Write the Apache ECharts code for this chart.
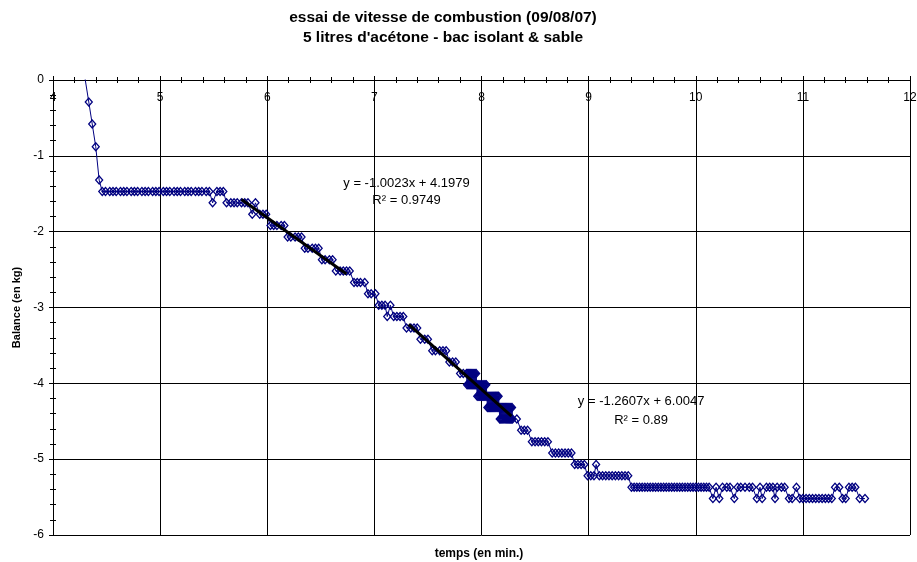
<!DOCTYPE html>
<html>
<head>
<meta charset="utf-8">
<script src="https://cdn.jsdelivr.net/npm/echarts@6/dist/echarts.min.js"></script>
<style>
  html, body { margin: 0; padding: 0; background: #fff; }
  #chart { width: 917px; height: 562px; }
</style>
</head>
<body>
<div id="chart"></div>
<script>
(function () {
  // balance readings [time in min, balance in kg]
  const startDrop = [
    [4.29, 0.10], [4.334, -0.29], [4.366, -0.58], [4.399, -0.88], [4.431, -1.32]
  ];
  const firstPlateau = [
    [4.46, -1.47], [4.49, -1.47], [4.53, -1.47], [4.56, -1.47], [4.59, -1.47], [4.63, -1.47],
    [4.66, -1.47], [4.69, -1.47], [4.73, -1.47], [4.76, -1.47], [4.79, -1.47], [4.83, -1.47],
    [4.86, -1.47], [4.89, -1.47], [4.93, -1.47], [4.96, -1.47], [4.99, -1.47], [5.03, -1.47],
    [5.06, -1.47], [5.09, -1.47], [5.13, -1.47], [5.16, -1.47], [5.19, -1.47], [5.23, -1.47],
    [5.26, -1.47], [5.29, -1.47], [5.33, -1.47], [5.36, -1.47], [5.39, -1.47], [5.43, -1.47],
    [5.46, -1.47], [5.49, -1.62], [5.53, -1.47], [5.56, -1.47], [5.59, -1.47],
    [5.62, -1.62], [5.66, -1.62], [5.69, -1.62], [5.72, -1.62], [5.76, -1.62], [5.79, -1.62],
    [5.82, -1.62], [5.86, -1.77], [5.89, -1.62]
  ];
  const burnSlope = [
    [5.93, -1.77], [5.96, -1.77], [5.99, -1.77],
    [6.03, -1.92], [6.06, -1.92], [6.09, -1.92], [6.13, -1.92], [6.16, -1.92],
    [6.19, -2.07], [6.22, -2.07], [6.26, -2.07], [6.29, -2.07], [6.32, -2.07],
    [6.35, -2.22], [6.38, -2.22], [6.42, -2.22], [6.45, -2.22], [6.48, -2.22],
    [6.51, -2.37], [6.54, -2.37], [6.58, -2.37], [6.61, -2.37],
    [6.64, -2.52], [6.68, -2.52], [6.71, -2.52], [6.74, -2.52], [6.77, -2.52],
    [6.81, -2.67], [6.84, -2.67], [6.87, -2.67], [6.91, -2.67],
    [6.94, -2.82], [6.97, -2.82], [7.01, -2.82],
    [7.04, -2.97], [7.07, -2.97], [7.10, -2.97], [7.12, -3.12], [7.15, -2.97],
    [7.18, -3.12], [7.21, -3.12], [7.24, -3.12], [7.27, -3.12],
    [7.30, -3.27], [7.34, -3.27], [7.37, -3.27], [7.40, -3.27],
    [7.43, -3.42], [7.47, -3.42], [7.50, -3.42],
    [7.54, -3.57], [7.57, -3.57], [7.61, -3.57], [7.64, -3.57], [7.67, -3.57],
    [7.70, -3.72], [7.73, -3.72], [7.76, -3.72],
    [7.80, -3.87], [7.83, -3.87]
  ];
  // fast-sampled stretch where the reading flickers between two levels
  const denseSection = [
    [7.860, -3.87], [7.865, -4.02], [7.870, -3.87], [7.875, -4.02], [7.880, -3.87], [7.885, -4.02],
    [7.890, -3.87], [7.895, -4.02], [7.900, -3.87], [7.905, -4.02], [7.910, -3.87], [7.915, -4.02],
    [7.920, -3.87], [7.925, -4.02], [7.930, -3.87], [7.935, -4.02], [7.940, -3.87], [7.945, -4.02],
    [7.950, -3.87],
    [7.955, -4.02], [7.960, -4.17], [7.965, -4.02], [7.970, -4.17], [7.975, -4.02], [7.980, -4.17],
    [7.985, -4.02], [7.990, -4.17], [7.995, -4.02], [8.000, -4.17], [8.005, -4.02], [8.010, -4.17],
    [8.015, -4.02], [8.020, -4.17], [8.025, -4.02], [8.030, -4.17], [8.035, -4.02], [8.040, -4.17],
    [8.045, -4.02], [8.050, -4.17],
    [8.055, -4.32], [8.060, -4.17], [8.065, -4.32], [8.070, -4.17], [8.075, -4.32], [8.080, -4.17],
    [8.085, -4.32], [8.090, -4.17], [8.095, -4.32], [8.100, -4.17], [8.105, -4.32], [8.110, -4.17],
    [8.115, -4.32], [8.120, -4.17], [8.125, -4.32], [8.130, -4.17], [8.135, -4.32], [8.140, -4.17],
    [8.145, -4.32], [8.150, -4.17], [8.155, -4.32], [8.160, -4.17], [8.165, -4.32],
    [8.170, -4.47], [8.175, -4.32], [8.180, -4.47], [8.185, -4.32], [8.190, -4.47], [8.195, -4.32],
    [8.200, -4.47], [8.205, -4.32], [8.210, -4.47], [8.215, -4.32], [8.220, -4.47], [8.225, -4.32],
    [8.230, -4.47], [8.235, -4.32], [8.240, -4.47], [8.245, -4.32], [8.250, -4.47], [8.255, -4.32],
    [8.260, -4.47], [8.265, -4.32], [8.270, -4.47], [8.275, -4.32], [8.280, -4.47], [8.285, -4.32],
    [8.290, -4.47],
    [8.33, -4.47]
  ];
  const lateSlope = [
    [8.37, -4.62], [8.40, -4.62], [8.43, -4.62],
    [8.47, -4.77], [8.50, -4.77], [8.53, -4.77], [8.56, -4.77], [8.59, -4.77], [8.62, -4.77],
    [8.66, -4.92], [8.69, -4.92], [8.72, -4.92], [8.75, -4.92], [8.78, -4.92], [8.81, -4.92], [8.84, -4.92],
    [8.87, -5.07], [8.90, -5.07], [8.93, -5.07], [8.96, -5.07],
    [8.99, -5.22], [9.02, -5.22], [9.05, -5.22], [9.07, -5.07],
    [9.10, -5.22], [9.13, -5.22], [9.16, -5.22], [9.19, -5.22], [9.22, -5.22],
    [9.25, -5.22], [9.28, -5.22], [9.31, -5.22], [9.34, -5.22], [9.37, -5.22]
  ];
  const tailSection = [
    [9.40, -5.37], [9.425, -5.37], [9.45, -5.37], [9.475, -5.37], [9.50, -5.37], [9.525, -5.37],
    [9.55, -5.37], [9.575, -5.37], [9.60, -5.37], [9.625, -5.37], [9.65, -5.37], [9.675, -5.37],
    [9.70, -5.37], [9.725, -5.37], [9.75, -5.37], [9.775, -5.37], [9.80, -5.37], [9.825, -5.37],
    [9.85, -5.37], [9.875, -5.37], [9.90, -5.37], [9.925, -5.37], [9.95, -5.37], [9.975, -5.37],
    [10.00, -5.37], [10.025, -5.37], [10.05, -5.37], [10.075, -5.37], [10.10, -5.37], [10.125, -5.37],
    [10.16, -5.52], [10.19, -5.37], [10.22, -5.52], [10.25, -5.37], [10.29, -5.37], [10.32, -5.37],
    [10.36, -5.52], [10.39, -5.37], [10.42, -5.37], [10.46, -5.37], [10.50, -5.37], [10.53, -5.37],
    [10.57, -5.52], [10.60, -5.37], [10.62, -5.52], [10.66, -5.37], [10.69, -5.37], [10.72, -5.37],
    [10.74, -5.52], [10.76, -5.37], [10.80, -5.37], [10.83, -5.37], [10.87, -5.52], [10.90, -5.52],
    [10.94, -5.37],
    [10.97, -5.52], [11.00, -5.52], [11.03, -5.52], [11.06, -5.52], [11.09, -5.52], [11.12, -5.52],
    [11.15, -5.52], [11.18, -5.52], [11.21, -5.52], [11.24, -5.52], [11.27, -5.52],
    [11.30, -5.37], [11.34, -5.37], [11.37, -5.52], [11.40, -5.52],
    [11.43, -5.37], [11.46, -5.37], [11.49, -5.37], [11.53, -5.52], [11.58, -5.52]
  ];

  // linear trendlines shown on the chart
  const trend1 = { slope: -1.0023, intercept: 4.1979, r2: '0.9749', from: 5.76, to: 6.74 };
  const trend2 = { slope: -1.2607, intercept: 6.0047, r2: '0.89', from: 7.32, to: 8.28 };

  const xTicks = [4, 5, 6, 7, 8, 9, 10, 11, 12];
  const yTicks = [-6, -5, -4, -3, -2, -1, 0];

  const FONT = '"Liberation Sans", Arial, sans-serif';
  const NAVY = '#000080';

  const balance = [].concat(startDrop, firstPlateau, burnSlope, denseSection, lateSlope, tailSection);

  function trendPoints(t) {
    return [t.from, t.to].map(x => [x, t.slope * x + t.intercept]);
  }

  const chart = echarts.init(document.getElementById('chart'));

  const tickStyle = { color: '#000', width: 1 };

  const option = {
    animation: false,
    backgroundColor: '#fff',
    title: [
      {
        text: 'essai de vitesse de combustion (09/08/07)\n5 litres d\'acétone - bac isolant & sable',
        left: 438,
        top: 3,
        textAlign: 'center',
        textStyle: { fontFamily: FONT, fontSize: 15.5, fontWeight: 'bold', color: '#000', lineHeight: 20 }
      },
      {
        text: 'temps (en min.)',
        left: 474,
        top: 543,
        textAlign: 'center',
        textStyle: { fontFamily: FONT, fontSize: 12, fontWeight: 'bold', color: '#000' }
      }
    ],
    grid: { left: 53, top: 80, width: 857, height: 455, outerBoundsMode: 'none' },
    xAxis: [
      {
        type: 'value', min: xTicks[0], max: xTicks[xTicks.length - 1], interval: 1,
        position: 'top',
        axisLine: { show: true, onZero: false, lineStyle: tickStyle },
        axisTick: { show: true, inside: false, length: 4, lineStyle: tickStyle },
        minorTick: { show: true, splitNumber: 5, length: 3, lineStyle: tickStyle },
        axisLabel: { inside: true, margin: 12, fontFamily: FONT, fontSize: 12, color: '#000' },
        splitLine: { show: true, lineStyle: { color: '#000', width: 1 } }
      },
      {
        type: 'value', min: xTicks[0], max: xTicks[xTicks.length - 1], interval: 1,
        position: 'top',
        axisLine: { show: false, onZero: false },
        axisTick: { show: true, inside: true, length: 4, lineStyle: tickStyle },
        minorTick: { show: true, splitNumber: 5, length: 3, lineStyle: tickStyle },
        axisLabel: { show: false },
        splitLine: { show: false }
      }
    ],
    yAxis: [
      {
        type: 'value', min: yTicks[0], max: yTicks[yTicks.length - 1], interval: 1,
        position: 'left',
        name: 'Balance (en kg)',
        nameLocation: 'middle',
        nameGap: 30,
        nameRotate: 90,
        nameTextStyle: { fontFamily: FONT, fontSize: 11, fontWeight: 'bold', color: '#000' },
        axisLine: { show: true, onZero: false, lineStyle: tickStyle },
        axisTick: { show: true, inside: false, length: 4, lineStyle: tickStyle },
        minorTick: { show: true, splitNumber: 5, length: 3, lineStyle: tickStyle },
        axisLabel: { margin: 9, fontFamily: FONT, fontSize: 12, color: '#000' },
        splitLine: { show: true, lineStyle: { color: '#000', width: 1 } }
      },
      {
        type: 'value', min: yTicks[0], max: yTicks[yTicks.length - 1], interval: 1,
        position: 'left',
        axisLine: { show: false, onZero: false },
        axisTick: { show: true, inside: true, length: 4, lineStyle: tickStyle },
        minorTick: { show: true, splitNumber: 5, length: 3, lineStyle: tickStyle },
        axisLabel: { show: false },
        splitLine: { show: false }
      }
    ],
    series: [
      {
        name: 'Balance',
        type: 'line',
        xAxisIndex: 0,
        yAxisIndex: 0,
        data: balance,
        symbol: 'diamond',
        symbolSize: [7, 8],
        showAllSymbol: true,
        itemStyle: { color: 'transparent', borderColor: NAVY, borderWidth: 1.3 },
        lineStyle: { color: NAVY, width: 1 },
        emphasis: { disabled: true },
        clip: true,
        z: 2
      },
      {
        name: 'Tendance 1',
        type: 'line',
        data: trendPoints(trend1),
        symbol: 'none',
        lineStyle: { color: '#000', width: 3 },
        emphasis: { disabled: true },
        z: 3
      },
      {
        name: 'Tendance 2',
        type: 'line',
        data: trendPoints(trend2),
        symbol: 'none',
        lineStyle: { color: '#000', width: 3 },
        emphasis: { disabled: true },
        z: 3
      }
    ]
  };

  chart.setOption(option);

  // equation labels, anchored in data coordinates
  const labelSpots = [
    { at: [7.30, -1.36], text: 'y = -1.0023x + 4.1979' },
    { at: [7.30, -1.585], text: 'R² = ' + trend1.r2 },
    { at: [9.49, -4.235], text: 'y = -1.2607x + 6.0047' },
    { at: [9.49, -4.49], text: 'R² = ' + trend2.r2 }
  ];

  chart.setOption({
    graphic: labelSpots.map(s => {
      const p = chart.convertToPixel({ gridIndex: 0 }, s.at);
      return {
        type: 'text',
        x: p[0],
        y: p[1],
        z: 10,
        style: {
          text: s.text,
          font: '13px ' + FONT,
          fill: '#000',
          align: 'center',
          verticalAlign: 'middle'
        }
      };
    })
  });

  window.addEventListener('resize', () => {
    chart.resize();
  });
})();
</script>
</body>
</html>
